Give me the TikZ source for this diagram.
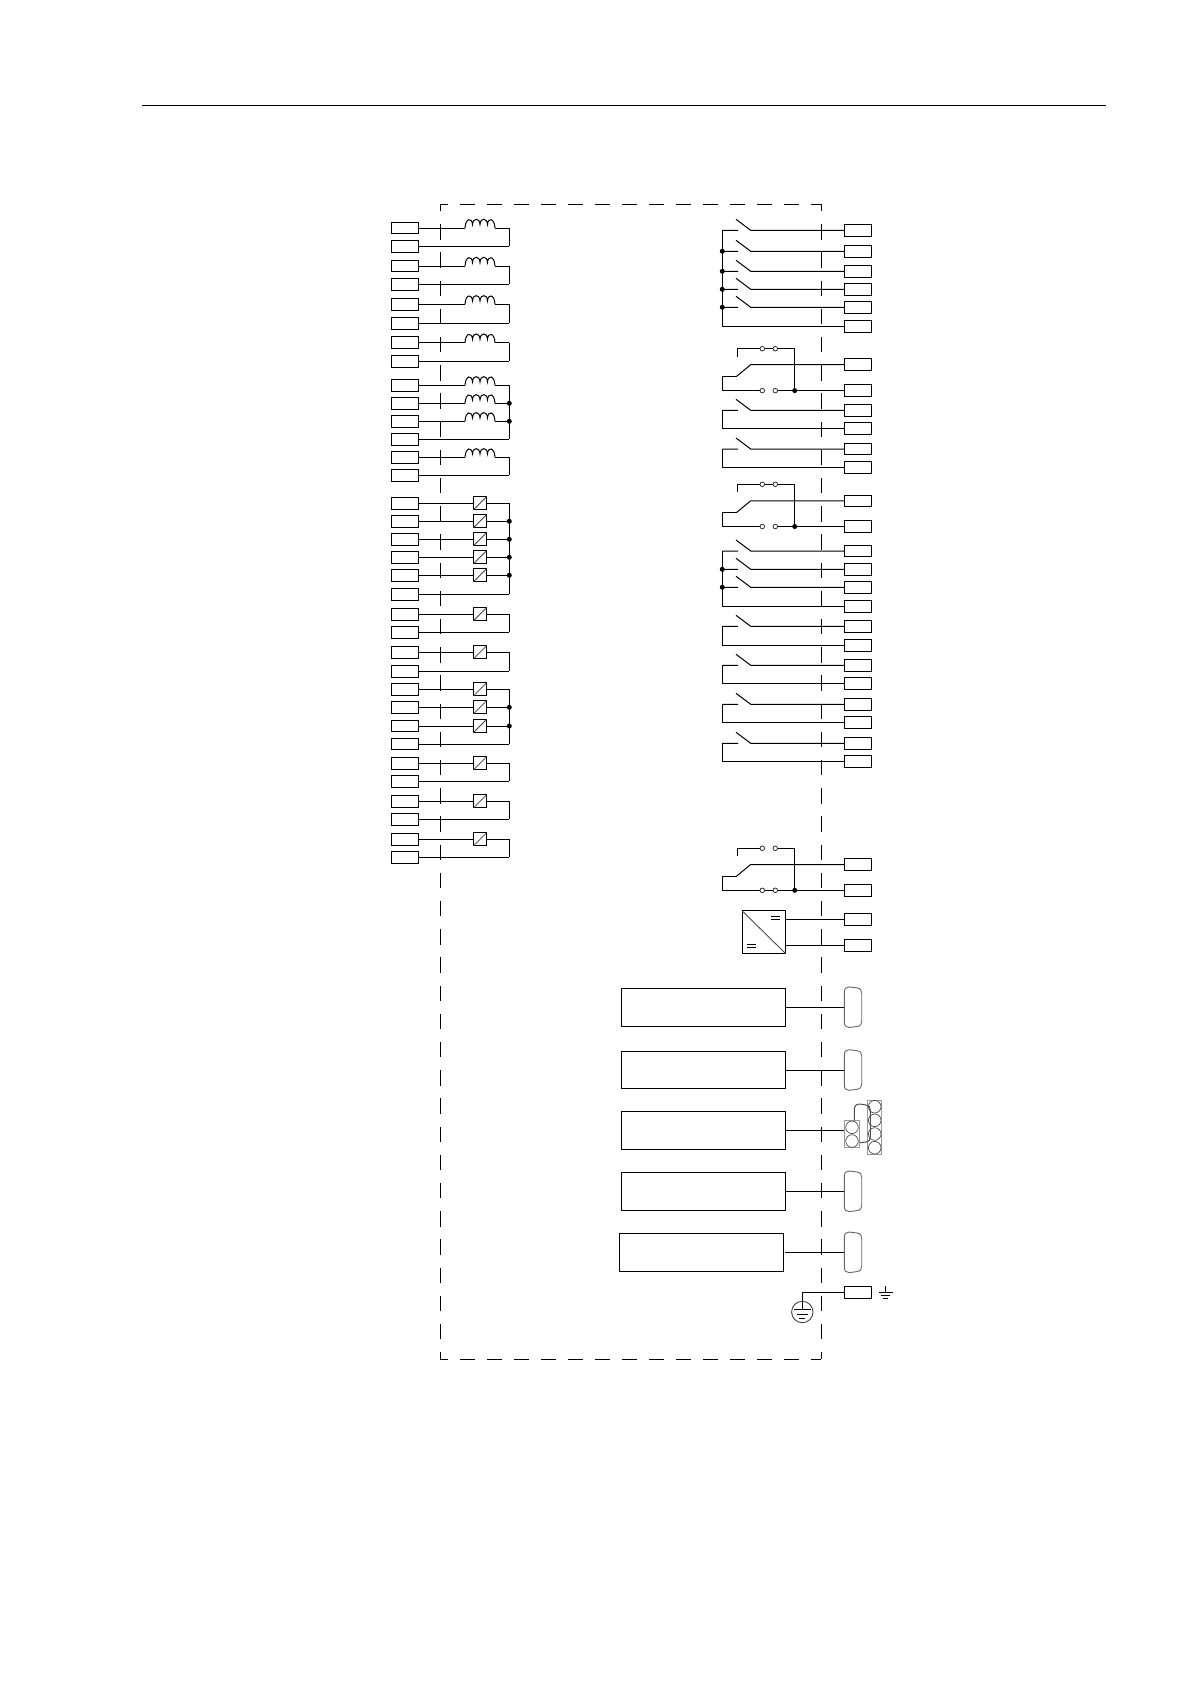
\documentclass[tikz,border=0pt]{standalone}
\tikzset{
  wire/.style={line width=1pt,black},
  frameline/.style={line width=1pt,black},
  termbox/.style={draw=black,line width=1pt,minimum width=27.4pt,minimum height=11.6pt,inner sep=0pt,outer sep=0pt},
  optobox/.style={draw=black,line width=1pt,minimum width=13.2pt,minimum height=13.2pt,inner sep=0pt,outer sep=0pt},
  bigbox/.style={draw=black,line width=1pt,minimum width=164.4pt,minimum height=37.7pt,inner sep=0pt,outer sep=0pt},
  jdot/.style={circle,fill=black,inner sep=0pt,minimum size=5pt},
  contact/.style={circle,draw=black!80,fill=white,line width=0.8pt,inner sep=0pt,minimum size=4.6pt,outer sep=0pt},
  conn/.style={line width=0.9pt,black!60},
  pinbox/.style={draw=black!40,line width=0.9pt},
  pin/.style={draw=black!70,line width=0.7pt},
}
% left column
\newcommand\lterm[2]{\node[termbox] (#1) at (405,#2) {};\coordinate (#1r) at (509.3,#2);}
\newcommand\coilat[2]{%
  \coordinate (#1w) at (465,#2);\coordinate (#1e) at (495,#2);
  \draw[wire] (#1w) .. controls (465.6,#2-10.5) and (472,#2-10.5) .. (472.5,#2-3.5)
     .. controls (472.9,#2-10.5) and (479.6,#2-10.5) .. (480,#2-3.5)
     .. controls (480.4,#2-10.5) and (487.1,#2-10.5) .. (487.5,#2-3.5)
     .. controls (487.9,#2-10.5) and (494.4,#2-10.5) .. (495,#2);}
\newcommand\lcoil[2]{\lterm{#1}{#2}\coilat{#1c}{#2}\draw[wire] (#1.east) -- (#1cw) (#1ce) -- (#1r);}
\newcommand\lopto[2]{\lterm{#1}{#2}\node[optobox] (#1o) at (480,#2) {};
  \draw[line width=0.8pt,black!75] (#1o.south west) -- (#1o.north east);
  \draw[wire] (#1.east) -- (#1o.west) (#1o.east) -- (#1r);}
\newcommand\lret[2]{\lterm{#1}{#2}\draw[wire] (#1.east) -- (#1r);}
% right column
\newcommand\rterm[2]{\node[termbox] (#1) at (858,#2) {};\coordinate (#1l) at (722.3,#2);}
\newcommand\sw[2]{\rterm{#1}{#2}%
  \coordinate (#1a) at (736,#2-11);\coordinate (#1b) at (750.7,#2);\coordinate (#1s) at (738,#2);
  \draw[wire] (#1a) -- (#1b) -- (#1.west) (#1l) -- (#1s);}
\newcommand\rret[2]{\rterm{#1}{#2}\draw[wire] (#1l) -- (#1.west);}
% changeover: name, y top contact, y moving, y lower
\newcommand\chg[4]{%
  \rterm{#1m}{#3}\rterm{#1n}{#4}%
  \node[contact] (#1ca) at (762.3,#2) {};\node[contact] (#1cb) at (775.3,#2) {};
  \node[contact] (#1cc) at (762.3,#4) {};\node[contact] (#1cd) at (775.3,#4) {};
  \node[jdot] (#1j) at (794.7,#4) {};
  \coordinate (#1s) at (737.3,#2+8);\coordinate (#1t) at (737.3,#2);\coordinate (#1u) at (794.7,#2);
  \coordinate (#1v) at (736.7,#3+11.5);\coordinate (#1b) at (750.7,#3);\coordinate (#1w) at (722.3,#3+11.5);
  \draw[wire] (#1s) -- (#1t) -- (#1ca) (#1cb) -- (#1u) -- (#1j);
  \draw[wire] (#1v) -- (#1b) -- (#1m.west);
  \draw[wire] (#1v) -- (#1w) -- (#1nl) -- (#1cc);
  \draw[wire] (#1cd) -- (#1n.west);}
% D connector
\newcommand\dsub[2]{\coordinate (#1) at (844.3,#2);
  \draw[conn] (844.3,#2-15) .. controls (844.3,#2-18.5) and (846,#2-20.3) .. (849,#2-20.3)
     -- (857,#2-19.3) .. controls (860.5,#2-18.8) and (861.7,#2-17) .. (861.7,#2-14)
     -- (861.7,#2+14) .. controls (861.7,#2+17) and (860.5,#2+18.8) .. (857,#2+19.3)
     -- (849,#2+20.3) .. controls (846,#2+20.3) and (844.3,#2+18.5) .. (844.3,#2+15) -- cycle;}
\begin{document}
\begin{tikzpicture}[x=1pt,y=-1pt]
\useasboundingbox (0,0) rectangle (1190,1682);
% header rule
\coordinate (hl) at (142,105.3);\coordinate (hr) at (1105.7,105.3);
\draw[wire] (hl) -- (hr);
% dashed frame
\coordinate (ftl) at (440.3,204.4);\coordinate (ftr) at (821.3,204.4);
\coordinate (fbl) at (440.3,1359);\coordinate (fbr) at (821.3,1359);
\draw[frameline,dash pattern=on 15.3pt off 11.7pt,dash phase=7.3pt] (ftl) -- (ftr);
\draw[frameline,dash pattern=on 15.3pt off 11.7pt,dash phase=7.3pt] (fbl) -- (fbr);
\draw[frameline,dash pattern=on 15.5pt off 12.7pt,dash phase=8.5pt] (ftl) -- (fbl);
\draw[frameline,dash pattern=on 15.5pt off 12.7pt,dash phase=8.5pt] (ftr) -- (fbr);
% ---- left coils
\lcoil{a1}{228}\lret{a2}{246.3}\draw[wire] (a1r) -- (a2r);
\lcoil{a3}{266}\lret{a4}{284.3}\draw[wire] (a3r) -- (a4r);
\lcoil{a5}{304.3}\lret{a6}{323.3}\draw[wire] (a5r) -- (a6r);
\lcoil{a7}{342.7}\lret{a8}{361.3}\draw[wire] (a7r) -- (a8r);
\lcoil{a9}{385.3}\lcoil{a10}{403.3}\lcoil{a11}{421.3}\lret{a12}{439.3}\draw[wire] (a9r) -- (a12r);
\node[jdot] (ja1) at (a10r) {};\node[jdot] (ja2) at (a11r) {};
\lcoil{a13}{457.3}\lret{a14}{475.3}\draw[wire] (a13r) -- (a14r);
% ---- left optos
\lopto{b1}{503.3}\lopto{b2}{521.3}\lopto{b3}{539.3}\lopto{b4}{557.3}\lopto{b5}{575.3}\lret{b6}{594.3}
\draw[wire] (b1r) -- (b6r);
\node[jdot] (jb1) at (b2r) {};\node[jdot] (jb2) at (b3r) {};\node[jdot] (jb3) at (b4r) {};\node[jdot] (jb4) at (b5r) {};
\lopto{b7}{614.3}\lret{b8}{632.3}\draw[wire] (b7r) -- (b8r);
\lopto{b9}{652.3}\lret{b10}{671.3}\draw[wire] (b9r) -- (b10r);
\lopto{b11}{689.3}\lopto{b12}{707.3}\lopto{b13}{726}\lret{b14}{744}\draw[wire] (b11r) -- (b14r);
\node[jdot] (jb5) at (b12r) {};\node[jdot] (jb6) at (b13r) {};
\lopto{b15}{763.3}\lret{b16}{781.3}\draw[wire] (b15r) -- (b16r);
\lopto{b17}{801.3}\lret{b18}{819.3}\draw[wire] (b17r) -- (b18r);
\lopto{b19}{839.3}\lret{b20}{857.3}\draw[wire] (b19r) -- (b20r);
% ---- right switches
\sw{c1}{230.3}\sw{c2}{251.3}\sw{c3}{271.3}\sw{c4}{289.3}\sw{c5}{307.3}\rret{c6}{326.7}
\draw[wire] (c1l) -- (c6l);
\node[jdot] (jc1) at (c2l) {};\node[jdot] (jc2) at (c3l) {};\node[jdot] (jc3) at (c4l) {};\node[jdot] (jc4) at (c5l) {};
\chg{d}{348.7}{364.7}{390.6}
\draw[wire] (dca) -- (dcb);
\sw{c7}{410.3}\rret{c8}{428.3}\draw[wire] (c7l) -- (c8l);
\sw{c9}{449}\rret{c10}{467.3}\draw[wire] (c9l) -- (c10l);
\chg{e}{484.3}{500.8}{526.5}
\draw[wire] (eca) -- (ecb);
\sw{f1}{551}\sw{f2}{569.3}\sw{f3}{587.3}\rret{f4}{606.3}\draw[wire] (f1l) -- (f4l);
\node[jdot] (jf1) at (f2l) {};\node[jdot] (jf2) at (f3l) {};
\sw{f5}{626.3}\rret{f6}{645.3}\draw[wire] (f5l) -- (f6l);
\sw{f7}{665.3}\rret{f8}{683.3}\draw[wire] (f7l) -- (f8l);
\sw{f9}{704.3}\rret{f10}{722.3}\draw[wire] (f9l) -- (f10l);
\sw{f11}{743.3}\rret{f12}{761.3}\draw[wire] (f11l) -- (f12l);
\chg{g}{848.3}{864.5}{890.3}
\draw[wire] (gcc) -- (gcd);
% ---- DC/DC converter
\node[draw=black,line width=1pt,minimum width=43.4pt,minimum height=42.7pt,inner sep=0pt,outer sep=0pt] (dc) at (764,932.3) {};
\draw[line width=0.9pt,black!70] (dc.north west) -- (dc.south east);
\draw[line width=0.9pt] (771,916) -- (780.3,916) (771,919.7) -- (780.3,919.7);
\draw[line width=0.9pt] (747,944.3) -- (756,944.3) (747,947.7) -- (756,947.7);
\rterm{h1}{919.3}\rterm{h2}{945.3}
\coordinate (dc1) at (785.7,919.3);\coordinate (dc2) at (785.7,945.3);
\draw[wire] (dc1) -- (h1.west) (dc2) -- (h2.west);
% ---- big boxes and connectors
\node[bigbox] (p1) at (703.5,1007.2) {};\dsub{q1}{1007.2}\draw[wire] (p1.east) -- (q1);
\node[bigbox] (p2) at (703.5,1070) {};\dsub{q2}{1070}\draw[wire] (p2.east) -- (q2);
\node[bigbox] (p3) at (703.5,1130.3) {};
\node[bigbox] (p4) at (703.5,1191.3) {};\dsub{q4}{1191.3}\draw[wire] (p4.east) -- (q4);
\node[bigbox] (p5) at (701.5,1252.3) {};\dsub{q5}{1252.3}\coordinate (p5w) at (785,1252.3);\draw[wire] (p5w) -- (q5);
% ---- stacked connector
\coordinate (q3) at (844.3,1130.3);\draw[wire] (p3.east) -- (q3);
\draw[pinbox] (844.3,1120.3) rectangle (859.7,1147.7);
\draw[pinbox] (867.3,1100) rectangle (881.7,1154.3);
\foreach \py in {1127.3,1141}{\draw[pin] (852,\py) circle (6.3pt);}
\foreach \py in {1106.7,1120.3,1134,1147.7}{\draw[pin] (874.7,\py) circle (6.3pt);}
\draw[line width=1pt,black!70] (854.3,1120.3) -- (854.3,1110) .. controls (854.3,1106) and (856,1104) .. (860,1104)
   -- (866,1105) .. controls (869,1105.5) and (870.3,1107) .. (870.3,1110)
   -- (870.3,1137) .. controls (870.3,1140) and (869,1141.5) .. (866,1142) -- (859.7,1142.7);
% ---- earth
\rterm{k}{1292.3}
\node[circle,draw=black!75,line width=0.9pt,minimum size=21.4pt,inner sep=0pt,outer sep=0pt] (pe) at (802.3,1312) {};
\coordinate (kc) at (802.3,1292.3);
\draw[wire] (k.west) -- (kc) -- (pe.north);
\draw[wire] (pe.north) -- (802.3,1309.3);
\draw[line width=0.9pt] (794,1309.3) -- (810.7,1309.3) (796.7,1314) -- (807.7,1314) (799.3,1318.3) -- (805.3,1318.3);
\draw[line width=0.8pt] (885.3,1286) -- (885.3,1292) (878.8,1292) -- (892.5,1292) (881,1295.2) -- (890,1295.2) (883.2,1298.4) -- (887.8,1298.4);
\end{tikzpicture}
\end{document}
